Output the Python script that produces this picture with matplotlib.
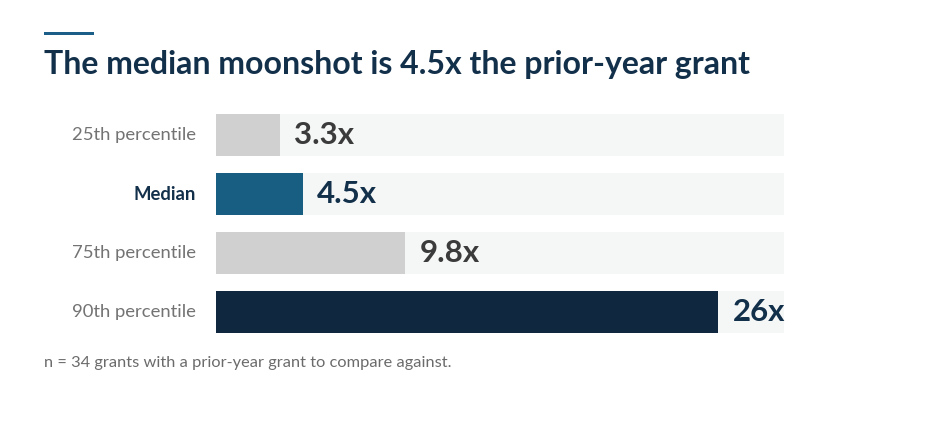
import matplotlib.pyplot as plt
from matplotlib.patches import Rectangle

# data
categories = ['25th percentile', 'Median', '75th percentile', '90th percentile']
values = [3.3, 4.5, 9.8, 26]
value_labels = ['3.3x', '4.5x', '9.8x', '26x']
bar_colors = ['#d0d0d0', '#175e82', '#d0d0d0', '#10283f']
label_colors = ['#3b3b3b', '#12304a', '#3b3b3b', '#12304a']
highlight = [False, True, False, False]

NAVY = '#13304b'
W, H = 936, 428

plt.rcParams['font.family'] = ['Lato', 'DejaVu Sans']

fig = plt.figure(figsize=(W / 100, H / 100), dpi=100)
fig.patch.set_facecolor('white')

ax = fig.add_axes([216 / W, 1 - 341.5 / H, 568 / W, 236 / H])
ax.set_xlim(0, 29.4)
ax.set_ylim(3.5, -0.5)
ax.axis('off')

y = list(range(len(categories)))
# background tracks
ax.barh(y, [29.4] * len(y), height=0.71, color='#f5f6f6', zorder=1)
ax.barh(y, values, height=0.71, color=bar_colors, zorder=2)

for i, (cat, v, lab) in enumerate(zip(categories, values, value_labels)):
    ax.annotate(lab, (v, i), xytext=(10.2, 0), textcoords='offset points',
                ha='left', va='center', fontsize=22.5, fontweight='bold',
                color=label_colors[i], zorder=3)
    ax.annotate(cat, (0, i), xytext=(-14.5, 0), textcoords='offset points',
                ha='right', va='center', fontsize=13.3,
                fontweight='bold' if highlight[i] else 'normal',
                color=NAVY if highlight[i] else '#737373')

# accent line + title
fig.add_artist(Rectangle((44 / W, 1 - 34.5 / H), 50 / W, 3 / H,
                         transform=fig.transFigure, color='#1b5f88', lw=0))
fig.text(44 / W, 1 - 74 / H, 'The median moonshot is 4.5x the prior-year grant',
         fontsize=23, fontweight='bold', color=NAVY, va='baseline', ha='left')

fig.text(44 / W, 1 - 367 / H, 'n = 34 grants with a prior-year grant to compare against.',
         fontsize=11.8, color='#6b6b6b', va='baseline', ha='left')

fig.savefig('out.png', dpi=100, facecolor='white')
